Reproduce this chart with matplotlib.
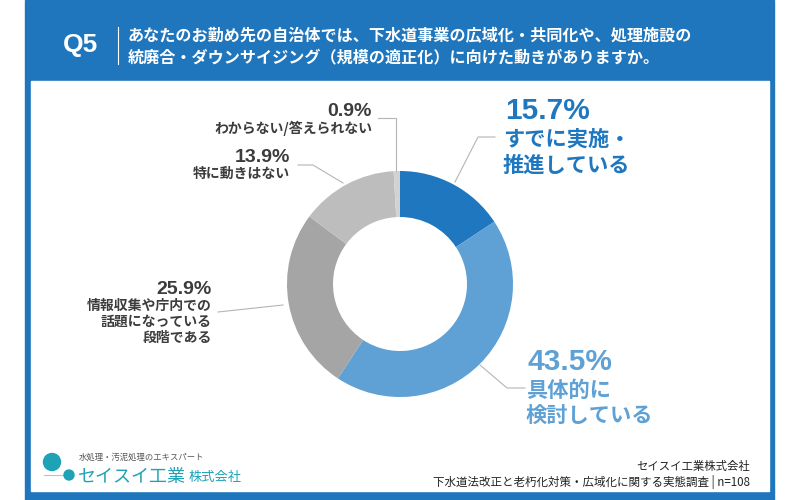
import matplotlib
matplotlib.use("Agg")
import matplotlib.pyplot as plt
import matplotlib.patches as mpatches

plt.rcParams['font.family'] = ['Noto Sans CJK JP', 'DejaVu Sans']

# data
labels = ['すでに実施・\n推進している', '具体的に\n検討している',
          '情報収集や庁内での\n話題になっている\n段階である', '特に動きはない',
          'わからない/答えられない']
values = [15.7, 43.5, 25.9, 13.9, 0.9]
colors = ['#1f77c0', '#5fa1d4', '#a5a5a5', '#bdbdbd', '#d2d2d2']

title = ['あなたのお勤め先の自治体では、下水道事業の広域化・共同化や、処理施設の',
         '統廃合・ダウンサイジング（規模の適正化）に向けた動きがありますか。']
source = ['セイスイ工業株式会社', '下水道法改正と老朽化対策・広域化に関する実態調査 | n=108']

BLUE = '#1f76bd'
DARK = '#3c3c3c'
NUM_FONT = ['Liberation Sans', 'DejaVu Sans']

fig = plt.figure(figsize=(8, 5), dpi=100)
ax = fig.add_axes([0, 0, 1, 1])

# frame
ax.add_patch(mpatches.Rectangle((25, 0), 749, 500, color=BLUE, zorder=0))
ax.add_patch(mpatches.Rectangle((31, 81), 738, 410, color='white', zorder=1))

# header
ax.text(81, 45, 'Q5', color='white', fontsize=19, fontweight='bold',
        ha='center', va='center', family=NUM_FONT)
ax.plot([118, 118], [27, 64], color='white', lw=0.8)
for i, line in enumerate(title):
    ax.text(128, 36 + i * 21, line, color='white', fontsize=11.6,
            fontweight='bold', ha='left', va='center')

# donut (y axis inverted, so counterclockwise in data is clockwise on screen)
cx, cy, R = 400, 284, 113
ax.pie(values, colors=colors, startangle=-90, counterclock=True,
       center=(cx, cy), radius=R,
       wedgeprops=dict(width=R - 67, edgecolor='none'))

# labels
lc = '#b5b5b5'
big = [
    (505, 111, '15.7%', labels[0], '#1f77c0', [(455, 182), (478, 137), (495, 137)]),
    (528, 362, '43.5%', labels[1], '#5fa1d4', [(480, 365), (507, 388), (525, 388)]),
]
for x, y, pct, lab, c, pts in big:
    ax.text(x, y, pct, color=c, fontsize=21.5, fontweight='bold', ha='left',
            va='center', family=NUM_FONT)
    for j, part in enumerate(lab.split('\n')):
        ax.text(x - 2, y + 28 + j * 26, part, color=c, fontsize=15.3,
                fontweight='bold', ha='left', va='center')
    ax.plot(*zip(*pts), color=lc, lw=0.8, zorder=2)

small = [
    (212, 289, '25.9%', labels[2], [(218, 312), (283, 305)]),
    (290, 157, '13.9%', labels[3], [(298, 165), (313, 165), (343, 183)]),
    (372, 111, '0.9%', labels[4], [(378, 118), (396, 118), (396, 171)]),
]
for x, y, pct, lab, pts in small:
    ax.text(x, y, pct, color=DARK, fontsize=14, fontweight='bold', ha='right',
            va='center', family=NUM_FONT)
    for j, part in enumerate(lab.split('\n')):
        ax.text(x, y + 17 + j * 16, part, color=DARK, fontsize=10,
                fontweight='bold', ha='right', va='center')
    ax.plot(*zip(*pts), color=lc, lw=0.8, zorder=2)

# logo
teal = '#1ea2b6'
ax.plot([44, 68], [475, 475], color='#9fcfd6', lw=0.8, zorder=2)
ax.add_patch(mpatches.Circle((52, 462), 8.5, color=teal, zorder=3))
ax.add_patch(mpatches.Circle((69, 475), 5, color=teal, zorder=3))
ax.text(79, 457, '水処理・汚泥処理のエキスパート', color='#555555', fontsize=6,
        ha='left', va='center')
ax.text(78, 477, 'セイスイ工業', color=teal, fontsize=13, ha='left', va='center')
ax.text(189, 478, '株式会社', color=teal, fontsize=9.5, ha='left', va='center')

# source
ax.text(750, 466, source[0], color='#222222', fontsize=8.2, ha='right', va='center')
ax.text(750, 482, source[1], color='#222222', fontsize=8.3, ha='right', va='center')

ax.set_xlim(0, 800)
ax.set_ylim(500, 0)
ax.set_aspect('equal')
ax.axis('off')

fig.savefig('out.png', dpi=100, facecolor='white')
